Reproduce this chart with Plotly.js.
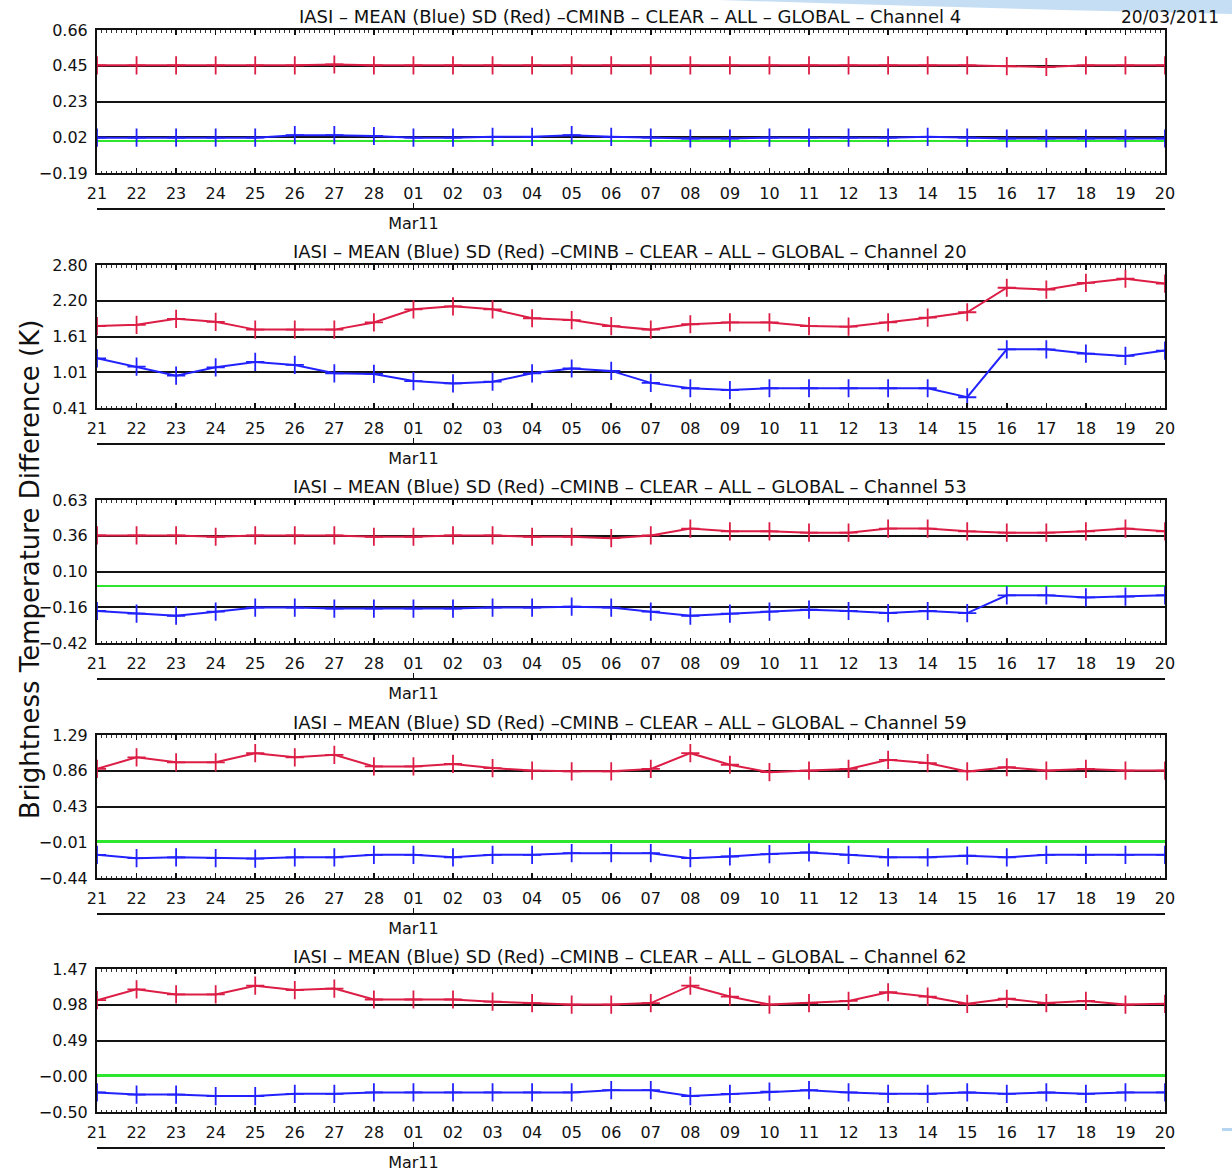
<!DOCTYPE html>
<html>
<head>
<meta charset="utf-8">
<script src="https://cdn.plot.ly/plotly-3.0.1.min.js"></script>
<style>html,body{margin:0;padding:0;background:#fff;}#chart{width:1232px;height:1174px;}</style>
</head>
<body>
<div id="chart"></div>
<script>
// ---------- DATA ----------
const days = ['2011-02-21','2011-02-22','2011-02-23','2011-02-24','2011-02-25','2011-02-26','2011-02-27','2011-02-28',
  '2011-03-01','2011-03-02','2011-03-03','2011-03-04','2011-03-05','2011-03-06','2011-03-07','2011-03-08','2011-03-09',
  '2011-03-10','2011-03-11','2011-03-12','2011-03-13','2011-03-14','2011-03-15','2011-03-16','2011-03-17','2011-03-18',
  '2011-03-19','2011-03-20'];
const channels = ['4', '20', '53', '59', '62'];

const ch4_mean  = [0.02,0.02,0.02,0.02,0.02,0.035,0.035,0.03,0.02,0.02,0.025,0.025,0.035,0.025,0.02,0.015,0.015,0.02,0.02,0.02,0.02,0.025,0.02,0.015,0.015,0.015,0.015,0.015];
const ch4_sd    = [0.45,0.45,0.45,0.45,0.45,0.45,0.455,0.45,0.45,0.45,0.45,0.45,0.45,0.45,0.45,0.45,0.45,0.45,0.45,0.45,0.45,0.45,0.45,0.445,0.44,0.45,0.45,0.45];
const ch20_mean = [1.24,1.10,0.95,1.09,1.18,1.13,0.99,0.98,0.86,0.82,0.85,0.99,1.07,1.03,0.83,0.74,0.71,0.74,0.74,0.74,0.74,0.74,0.59,1.39,1.39,1.32,1.28,1.37];
const ch20_sd   = [1.78,1.80,1.90,1.85,1.72,1.72,1.72,1.84,2.06,2.11,2.06,1.91,1.88,1.78,1.72,1.81,1.84,1.84,1.78,1.77,1.84,1.92,2.01,2.42,2.39,2.50,2.57,2.49];
const ch53_mean = [-0.185,-0.205,-0.22,-0.19,-0.16,-0.16,-0.167,-0.167,-0.167,-0.167,-0.16,-0.16,-0.153,-0.16,-0.19,-0.22,-0.205,-0.19,-0.175,-0.185,-0.20,-0.185,-0.20,-0.07,-0.07,-0.085,-0.08,-0.07];
const ch53_sd   = [0.37,0.37,0.37,0.36,0.37,0.37,0.37,0.36,0.36,0.37,0.37,0.36,0.36,0.35,0.37,0.42,0.40,0.40,0.39,0.39,0.42,0.42,0.40,0.39,0.39,0.40,0.42,0.40];
const ch59_mean = [-0.16,-0.20,-0.19,-0.20,-0.205,-0.19,-0.19,-0.16,-0.16,-0.19,-0.16,-0.16,-0.14,-0.14,-0.14,-0.20,-0.18,-0.15,-0.13,-0.16,-0.19,-0.19,-0.17,-0.19,-0.16,-0.16,-0.16,-0.16];
const ch59_sd   = [0.88,1.02,0.96,0.96,1.07,1.02,1.05,0.91,0.91,0.94,0.89,0.86,0.85,0.85,0.88,1.07,0.93,0.84,0.86,0.88,0.99,0.95,0.85,0.90,0.86,0.88,0.86,0.86];
const ch62_mean = [-0.23,-0.26,-0.26,-0.28,-0.28,-0.25,-0.25,-0.23,-0.23,-0.23,-0.23,-0.23,-0.23,-0.20,-0.20,-0.28,-0.25,-0.22,-0.20,-0.23,-0.25,-0.25,-0.23,-0.25,-0.23,-0.25,-0.23,-0.23];
const ch62_sd   = [1.04,1.19,1.12,1.12,1.24,1.18,1.20,1.05,1.05,1.05,1.02,1.00,0.98,0.98,1.00,1.24,1.09,0.98,1.00,1.03,1.15,1.09,0.99,1.06,1.00,1.03,0.98,0.99];

const ch4_yticks  = ['0.66','0.45','0.23','0.02','\u22120.19'];
const ch20_yticks = ['2.80','2.20','1.61','1.01','0.41'];
const ch53_yticks = ['0.63','0.36','0.10','\u22120.16','\u22120.42'];
const ch59_yticks = ['1.29','0.86','0.43','\u22120.01','\u22120.44'];
const ch62_yticks = ['1.47','0.98','0.49','\u22120.00','\u22120.50'];

const ch4_range  = [-0.19, 0.66];
const ch20_range = [0.41, 2.80];
const ch53_range = [-0.42, 0.63];
const ch59_range = [-0.44, 1.29];
const ch62_range = [-0.50, 1.47];

const monthTick = ['2011-03-01'];
const monthLabel = ['Mar11'];
const runDate = '20/03/2011';
const yTitle = 'Brightness Temperature Difference (K)';

// ---------- LAYOUT ----------
const W = 1232, H = 1174;
const boxTop = [30, 265, 500, 735, 969];
const boxH = 143;
const xDom = [97 / W, 1165 / W];
const RED = '#dc1d45', BLUE = '#2222ff', GREEN = '#2ee62e', INK = '#111111';
const FONT = 'DejaVu Sans';

const means = [ch4_mean, ch20_mean, ch53_mean, ch59_mean, ch62_mean];
const sds = [ch4_sd, ch20_sd, ch53_sd, ch59_sd, ch62_sd];
const ranges = [ch4_range, ch20_range, ch53_range, ch59_range, ch62_range];
const yticks = [ch4_yticks, ch20_yticks, ch53_yticks, ch59_yticks, ch62_yticks];

const traces = [];
const layout = {
  width: W, height: H,
  margin: {l: 0, r: 0, t: 0, b: 0},
  paper_bgcolor: '#ffffff', plot_bgcolor: '#ffffff',
  showlegend: false,
  annotations: [], shapes: []
};
const py = p => 1 - p / H;

for (let i = 0; i < 5; i++) {
  const n = i + 1;
  const xs = n === 1 ? '' : String(n);
  const mx = String(n + 5);
  const top = boxTop[i], bot = top + boxH;
  const [lo, hi] = ranges[i];
  const tv = [hi, hi - (hi - lo) / 4, hi - (hi - lo) / 2, hi - 3 * (hi - lo) / 4, lo];

  const mk = (y, c) => ({
    x: days, y: y, type: 'scatter', mode: 'lines+markers',
    xaxis: 'x' + xs, yaxis: 'y' + xs,
    line: {color: c, width: 2},
    marker: {symbol: 'cross-thin', size: 13, line: {color: c, width: 1.8}},
    hoverinfo: 'skip'
  });
  traces.push(mk(means[i], BLUE));
  traces.push(mk(sds[i], RED));

  layout['xaxis' + xs] = {
    domain: xDom, anchor: 'y' + xs, type: 'date',
    range: [days[0], days[days.length - 1]],
    tickmode: 'linear', tick0: days[0], dtick: 86400000, tickformat: '%d',
    ticks: 'inside', ticklen: 5, tickwidth: 1.5, tickcolor: INK,
    minor: {dtick: 10800000, tick0: days[0], ticks: 'inside', ticklen: 2.5, tickwidth: 1, tickcolor: '#333'},
    showline: true, linecolor: INK, linewidth: 2, mirror: 'ticks',
    showgrid: false, zeroline: false,
    tickfont: {family: FONT, size: 16, color: INK},
    ticklabelstandoff: 5, fixedrange: true
  };
  layout['yaxis' + xs] = {
    domain: [py(bot), py(top)], anchor: 'x' + xs,
    range: [lo, hi], tickmode: 'array', tickvals: tv, ticktext: yticks[i],
    ticks: '', showline: true, linecolor: INK, linewidth: 2, mirror: true,
    showgrid: true, gridcolor: '#141414', gridwidth: 2,
    zeroline: true, zerolinecolor: GREEN, zerolinewidth: 2.5,
    tickfont: {family: FONT, size: 16, color: INK},
    ticklabelstandoff: 4, fixedrange: true
  };
  layout['xaxis' + mx] = {
    overlaying: 'x' + xs, anchor: 'free', position: py(bot + 36), type: 'date',
    range: [days[0], days[days.length - 1]],
    tickmode: 'array', tickvals: monthTick, ticktext: monthLabel,
    ticks: 'inside', ticklen: 5, tickwidth: 1.5, tickcolor: INK,
    showline: true, linecolor: INK, linewidth: 2,
    showgrid: false, zeroline: false,
    tickfont: {family: FONT, size: 16, color: INK},
    ticklabelstandoff: 0, fixedrange: true
  };
  // empty trace so the month axis is drawn
  traces.push({x: monthTick, y: [null], type: 'scatter', mode: 'markers',
    xaxis: 'x' + mx, yaxis: 'y' + xs, hoverinfo: 'skip', showlegend: false});

  layout.annotations.push({
    text: 'IASI \u2013 MEAN (Blue) SD (Red) \u2013CMINB \u2013 CLEAR \u2013 ALL \u2013 GLOBAL \u2013 Channel ' + channels[i],
    xref: 'paper', yref: 'paper', x: 630 / W, y: py(top - 13),
    xanchor: 'center', yanchor: 'middle', showarrow: false,
    font: {family: FONT, size: 18, color: INK}
  });
}

layout.annotations.push({
  text: runDate, xref: 'paper', yref: 'paper', x: 1221 / W, y: py(17),
  xanchor: 'right', yanchor: 'middle', showarrow: false,
  font: {family: FONT, size: 17, color: INK}
});
layout.annotations.push({
  text: yTitle, xref: 'paper', yref: 'paper', x: 30 / W, y: py(570),
  xanchor: 'center', yanchor: 'middle', textangle: -90, showarrow: false,
  font: {family: FONT, size: 26, color: INK}
});

// slide decoration (top-right light blue band)
const pp = (x, y) => (x / W).toFixed(4) + ',' + (1 - y / H).toFixed(4);
layout.shapes.push({
  type: 'path', xref: 'paper', yref: 'paper', layer: 'below',
  path: 'M' + pp(720, 0) + ' L' + pp(1232, 0) + ' L' + pp(1232, 14) + ' Q' + pp(1000, 9) + ' ' + pp(720, 0) + ' Z',
  fillcolor: 'rgba(150,195,235,0.55)', line: {width: 0}
});
layout.shapes.push({
  type: 'rect', xref: 'paper', yref: 'paper', layer: 'below',
  x0: 1222 / W, x1: 1, y0: py(1131), y1: py(1128),
  fillcolor: 'rgba(150,195,235,0.7)', line: {width: 0}
});

Plotly.newPlot('chart', traces, layout, {staticPlot: true, displayModeBar: false});
</script>
</body>
</html>
